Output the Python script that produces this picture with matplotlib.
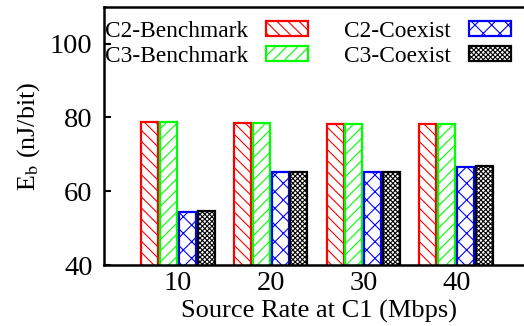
import numpy as np
import matplotlib
matplotlib.use("Agg")
import matplotlib.pyplot as plt

plt.rcParams["font.family"] = "Liberation Serif"
plt.rcParams["mathtext.fontset"] = "stix"
plt.rcParams["hatch.linewidth"] = 0.8

# data
rates = ["10", "20", "30", "40"]
c2_bench = [78.7, 78.4, 78.3, 78.2]
c3_bench = [78.7, 78.5, 78.3, 78.2]
c2_coex = [54.5, 65.2, 65.2, 66.7]
c3_coex = [54.7, 65.2, 65.2, 66.9]

series = [
    ("C2-Benchmark", c2_bench, "#ff0000", "\\\\\\"),
    ("C3-Benchmark", c3_bench, "#00ff00", "///"),
    ("C2-Coexist", c2_coex, "#0000ff", "xx"),
    ("C3-Coexist", c3_coex, "#000000", "xxxxxxx"),
]

fig = plt.figure(figsize=(5.24, 3.26), dpi=100)
ax = fig.add_axes([0.198, 0.187, 0.82, 0.792])

x = np.arange(1, len(rates) + 1)
step = 0.204
width = 0.183
handles = []
for i, (name, vals, col, hatch) in enumerate(series):
    b = ax.bar(x + (i - 1.5) * step, vals, width, facecolor="white",
               edgecolor=col, hatch=hatch, linewidth=1.6, label=name)
    handles.append(b)

ax.set_xlim(0.204, 4.83)
ax.set_ylim(40, 110)
ax.set_yticks([40, 60, 80, 100])
ax.set_xticks(x)
ax.set_xticklabels(rates)
ax.tick_params(axis="y", direction="in", length=5, width=1.5, labelsize=20.5, pad=8)
ax.tick_params(axis="x", length=0, labelsize=20.5, pad=4)
for s in ["left", "bottom", "top"]:
    ax.spines[s].set_linewidth(1.8)
ax.spines["right"].set_visible(False)

ax.set_xlabel("Source Rate at C1 (Mbps)", fontsize=19, labelpad=3)
ax.set_ylabel(r"E$_\mathrm{b}$ (nJ/bit)", fontsize=18.7, labelpad=6)

ax.legend(handles=handles, ncol=2, loc="upper left",
          bbox_to_anchor=(-0.036, 1.008),
          frameon=False, markerfirst=False, fontsize=16.8,
          handlelength=1.8, handleheight=0.6, columnspacing=1.55,
          handletextpad=0.78, labelspacing=0.16, borderaxespad=0.3)

fig.savefig("out.png", dpi=100)
